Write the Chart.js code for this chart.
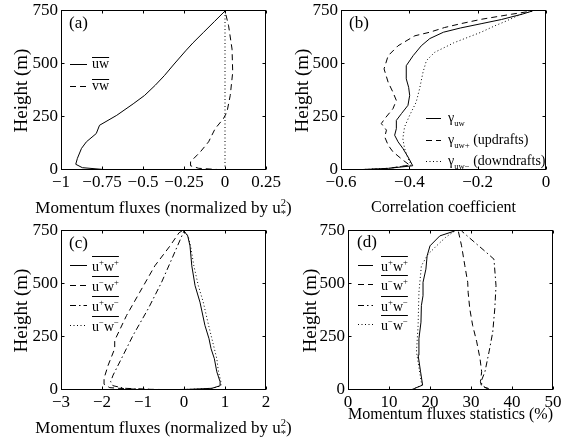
<!DOCTYPE html>
<html>
<head>
<meta charset="utf-8">
<script src="https://cdn.jsdelivr.net/npm/chart.js@4.4.1/dist/chart.umd.min.js"></script>
<style>
  body { margin: 0; background: #fff; }
  #wrap { position: relative; width: 562px; height: 439px; overflow: hidden; background: #fff; }
  canvas { position: absolute; }
</style>
</head>
<body>
<div id="wrap">
  <canvas id="chartA" width="305" height="220" style="left:0;top:0"></canvas>
  <canvas id="chartB" width="281" height="220" style="left:281px;top:0"></canvas>
  <canvas id="chartC" width="305" height="219" style="left:0;top:220px"></canvas>
  <canvas id="chartD" width="281" height="219" style="left:281px;top:220px"></canvas>
</div>
<script>
const SERIF = '"Liberation Serif", "Times New Roman", serif';
Chart.defaults.font.family = SERIF;
Chart.defaults.color = '#000';

// (a) mean momentum fluxes
const uwHeight = [0, 3, 11, 27, 55, 102, 133, 172, 211, 258, 312, 352, 400, 445, 500, 562, 600, 650, 700, 750];
const uwFlux = [-0.70, -0.75, -0.87, -0.91, -0.90, -0.875, -0.845, -0.785, -0.765, -0.66, -0.56, -0.49, -0.425, -0.37, -0.31, -0.24, -0.195, -0.13, -0.065, 0];
const vwHeight = [0, 2, 8, 20, 39, 86, 133, 195, 242, 273, 352, 461, 570, 680, 750];
const vwFlux = [-0.02, -0.04, -0.16, -0.21, -0.21, -0.15, -0.10, -0.06, -0.01, 0.012, 0.032, 0.047, 0.043, 0.022, 0];
const zeroHeight = [0, 750];
const zeroFlux = [0, 0];

// (b) correlation coefficients
const gUwHeight = [2, 8, 20, 62, 102, 133, 164, 195, 234, 266, 305, 352, 390, 430, 492, 539, 586, 620, 650, 670, 690, 710, 735, 750];
const gUw = [-0.54, -0.46, -0.39, -0.404, -0.419, -0.433, -0.443, -0.438, -0.438, -0.423, -0.404, -0.399, -0.402, -0.409, -0.409, -0.389, -0.365, -0.34, -0.30, -0.25, -0.19, -0.13, -0.07, -0.04];
const gUpHeight = [2, 5, 23, 47, 86, 117, 156, 188, 219, 242, 289, 328, 367, 414, 477, 539, 586, 633, 650, 672, 690, 711, 735, 750];
const gUp = [-0.54, -0.472, -0.399, -0.419, -0.448, -0.462, -0.472, -0.467, -0.482, -0.472, -0.448, -0.438, -0.448, -0.462, -0.474, -0.462, -0.433, -0.384, -0.34, -0.297, -0.25, -0.189, -0.10, -0.04];
const gDnHeight = [2, 8, 23, 55, 102, 148, 203, 258, 320, 383, 461, 516, 555, 586, 600, 625, 650, 680, 700, 730, 750];
const gDn = [-0.54, -0.46, -0.394, -0.404, -0.414, -0.419, -0.414, -0.399, -0.38, -0.37, -0.36, -0.35, -0.326, -0.287, -0.27, -0.23, -0.19, -0.15, -0.12, -0.08, -0.04];

// (c) quadrant fluxes
const ppHeight = [0, 3, 8, 20, 39, 86, 148, 195, 242, 305, 414, 492, 586, 680, 727, 750];
const ppFlux = [-0.87, 0.1, 0.68, 0.88, 0.88, 0.80, 0.74, 0.66, 0.61, 0.51, 0.39, 0.27, 0.19, 0.146, 0.09, 0];
const mpHeight = [0, 2, 5, 11, 27, 55, 117, 195, 234, 352, 461, 586, 680, 742, 750];
const mpFlux = [0, -0.47, -1.36, -1.81, -1.95, -1.95, -1.85, -1.69, -1.69, -1.40, -1.08, -0.71, -0.34, -0.12, -0.05];
const pmHeight = [0, 2, 8, 20, 39, 70, 148, 258, 383, 508, 617, 750];
const pmFlux = [-0.3, -0.71, -1.445, -1.73, -1.79, -1.73, -1.526, -1.242, -0.874, -0.547, -0.30, 0];
const mmHeight = [0, 3, 8, 20, 39, 86, 148, 242, 305, 414, 492, 586, 680, 727, 750];
const mmFlux = [-0.87, 0.1, 0.7, 0.9, 0.9, 0.84, 0.8, 0.68, 0.6, 0.47, 0.35, 0.24, 0.16, 0.1, 0];

// (d) quadrant statistics (%)
const ppPctHeight = [1, 8, 23, 86, 164, 242, 320, 398, 445, 508, 570, 633, 680, 727, 750];
const ppPct = [15.5, 16.3, 18.2, 17.7, 17.1, 17.3, 17.8, 17.9, 18.3, 18.3, 19.0, 19.3, 20.0, 22.4, 26];
const mpPctHeight = [1, 8, 16, 39, 86, 148, 227, 305, 383, 461, 508, 586, 680, 750];
const mpPct = [34.5, 34.2, 32.6, 32.3, 32.6, 32.2, 31.4, 30.4, 29.7, 29.3, 29.2, 28.5, 27.7, 26.9];
const pmPctHeight = [1, 8, 23, 47, 86, 180, 273, 383, 492, 617, 648, 703, 750];
const pmPct = [34.3, 33.8, 32.6, 32.6, 33.4, 34.4, 35.3, 35.8, 36.1, 35.6, 33.8, 30.5, 27.7];
const mmPctHeight = [1, 8, 23, 70, 180, 305, 461, 586, 640, 680, 720, 750];
const mmPct = [15.5, 16.3, 18.0, 17.6, 16.7, 17.1, 17.3, 17.9, 19.5, 21.6, 23.8, 26];

const heightTicks = [0, 250, 500, 750];
const ticksA = [-1, -0.75, -0.5, -0.25, 0, 0.25];
const ticksB = [-0.6, -0.4, -0.2, 0];
const ticksC = [-3, -2, -1, 0, 1, 2];
const ticksD = [0, 10, 20, 30, 40, 50];

const SOLID = [], DASH = [6, 4], DOT = [1, 2.5], DASHDOT = [6, 3, 1.5, 3];

const fmt = v => String(v).replace('-', '\u2212');

function pts(xs, ys) {
  return xs.map((v, i) => ({ x: v, y: ys[i] }));
}

function line(label, xs, ys, dash) {
  return {
    label: label,
    data: pts(xs, ys),
    showLine: true,
    borderColor: '#000',
    borderWidth: 1,
    borderDash: dash,
    pointRadius: 0,
    fill: false
  };
}

// parts: '^x' superscript, '_x' subscript, '&' prefix = same x as previous part
function richText(ctx, parts, x, y, size) {
  let cx = x, prevX = x, maxX = x;
  parts.forEach(p => {
    let s = size, dy = 0, t = p;
    let stack = false;
    if (t[0] === '&') { stack = true; t = t.slice(1); }
    if (t[0] === '^') { s = size * 0.62; dy = -size * 0.4; t = t.slice(1); }
    else if (t[0] === '_') { s = size * 0.62; dy = size * 0.25; t = t.slice(1); }
    ctx.font = s + 'px ' + SERIF;
    const px = stack ? prevX : cx;
    ctx.fillText(t, px, y + dy);
    const end = px + ctx.measureText(t).width;
    if (!stack) prevX = cx;
    maxX = Math.max(maxX, end);
    cx = maxX;
  });
  return cx - x;
}

function textWidth(ctx, parts, size) {
  ctx.save();
  ctx.globalAlpha = 0;
  const w = richText(ctx, parts, 0, 0, size);
  ctx.restore();
  return w;
}

const decor = {
  id: 'decor',
  afterDraw(chart, args, o) {
    const ctx = chart.ctx, a = chart.chartArea;
    const xs = chart.scales.x, ys = chart.scales.y;
    ctx.save();
    ctx.strokeStyle = '#000';
    ctx.fillStyle = '#000';
    ctx.lineWidth = 1;
    ctx.setLineDash([]);
    const L = Math.round(a.left) + 0.5, R = Math.round(a.right) - 0.5;
    const T = Math.round(a.top) - 0.5, B = Math.round(a.bottom) - 0.5;
    ctx.strokeRect(L, T, R - L, B - T);
    ctx.beginPath();
    xs.ticks.forEach(t => {
      const px = Math.round(xs.getPixelForValue(t.value)) + 0.5;
      ctx.moveTo(px, B); ctx.lineTo(px, B - 3);
      ctx.moveTo(px, T); ctx.lineTo(px, T + 3);
    });
    ys.ticks.forEach(t => {
      const py = Math.round(ys.getPixelForValue(t.value)) - 0.5;
      ctx.moveTo(L, py); ctx.lineTo(L + 3, py);
      ctx.moveTo(R, py); ctx.lineTo(R - 3, py);
    });
    ctx.stroke();

    ctx.textBaseline = 'alphabetic';
    ctx.textAlign = 'left';
    if (o.tag) {
      ctx.font = '17px ' + SERIF;
      ctx.fillText(o.tag.text, o.tag.x, o.tag.y);
    }
    if (o.xTitle) {
      const w = textWidth(ctx, o.xTitle.parts, 17);
      richText(ctx, o.xTitle.parts, (a.left + a.right) / 2 - w / 2, o.xTitle.y, 17);
    }
    if (o.legend) {
      const lg = o.legend;
      lg.items.forEach((it, i) => {
        const y = lg.ys[i] + 0.5;
        ctx.setLineDash(it.dash);
        ctx.beginPath();
        ctx.moveTo(lg.x0, y);
        ctx.lineTo(lg.x1, y);
        ctx.stroke();
        ctx.setLineDash([]);
        const w = richText(ctx, it.parts, lg.tx, lg.ys[i] + lg.base, 14);
        if (it.over) {
          const oy = Math.round(lg.ys[i] + lg.base - lg.over) + 0.5;
          ctx.beginPath();
          ctx.moveTo(lg.tx, oy);
          ctx.lineTo(lg.tx + w, oy);
          ctx.stroke();
        }
      });
    }
    ctx.restore();
  }
};

function options(p) {
  return {
    responsive: false,
    animation: false,
    layout: { padding: { top: 11, right: p.right, left: 0, bottom: 0 } },
    plugins: {
      legend: { display: false },
      tooltip: { enabled: false },
      decor: p.decor
    },
    scales: {
      x: {
        type: 'linear',
        min: p.xTicks[0],
        max: p.xTicks[p.xTicks.length - 1],
        grid: { display: false, drawTicks: false },
        border: { display: false },
        ticks: { autoSkip: false, maxRotation: 0, padding: 2, font: { size: 17 }, callback: v => fmt(v) },
        afterBuildTicks: s => { s.ticks = p.xTicks.map(v => ({ value: v })); },
        afterFit: s => { s.height = p.xh; s.paddingLeft = 0; s.paddingRight = 0; },
        title: p.xTitle
          ? { display: true, text: p.xTitle, font: { size: p.xTitleSize }, padding: { top: 0, bottom: p.xTitlePad } }
          : { display: false }
      },
      y: {
        type: 'linear',
        min: 0,
        max: 750,
        grid: { display: false, drawTicks: false },
        border: { display: false },
        ticks: { autoSkip: false, padding: 3, font: { size: 17 }, callback: v => fmt(v) },
        afterBuildTicks: s => { s.ticks = heightTicks.map(v => ({ value: v })); },
        afterFit: s => { s.width = p.left; s.paddingTop = 0; s.paddingBottom = 0; },
        title: { display: true, text: 'Height (m)', font: { size: 19 }, padding: { top: p.yTitlePad, bottom: 0 } }
      }
    }
  };
}

const fluxTitle = ['Momentum fluxes (normalized by u', '^2', '&_*', ')'];

new Chart(document.getElementById('chartA'), {
  type: 'scatter',
  data: { datasets: [
    line('uw', uwFlux, uwHeight, SOLID),
    line('vw', vwFlux, vwHeight, DASH),
    line('zero', zeroFlux, zeroHeight, DOT)
  ] },
  options: options({
    left: 61, right: 39, xh: 50, yTitlePad: 10.6, xTicks: ticksA,
    decor: {
      tag: { text: '(a)', x: 69, y: 28 },
      xTitle: { parts: fluxTitle, y: 213 },
      legend: { x0: 70, x1: 87, tx: 92, ys: [64, 86], base: 4, over: 11, items: [
        { dash: SOLID, parts: ['uw'], over: true },
        { dash: DASH, parts: ['vw'], over: true }
      ] }
    }
  }),
  plugins: [decor]
});

new Chart(document.getElementById('chartB'), {
  type: 'scatter',
  data: { datasets: [
    line('γuw', gUw, gUwHeight, SOLID),
    line('γuw+', gUp, gUpHeight, DASH),
    line('γuw-', gDn, gDnHeight, DOT)
  ] },
  options: options({
    left: 60, right: 16, xh: 50, yTitlePad: 10.6, xTicks: ticksB,
    xTitle: 'Correlation coefficient', xTitleSize: 16, xTitlePad: 3,
    decor: {
      tag: { text: '(b)', x: 68, y: 28 },
      legend: { x0: 145, x1: 160, tx: 167, ys: [118, 140, 161], base: 4, over: 0, items: [
        { dash: SOLID, parts: ['γ', '_uw'] },
        { dash: DASH, parts: ['γ', '_uw+', ' (updrafts)'] },
        { dash: DOT, parts: ['γ', '_uw\u2212', ' (downdrafts)'] }
      ] }
    }
  }),
  plugins: [decor]
});

const quadLegend = [
  { dash: SOLID, parts: ['u', '^+', 'w', '^+'], over: true },
  { dash: DASH, parts: ['u', '^\u2212', 'w', '^+'], over: true },
  { dash: DASHDOT, parts: ['u', '^+', 'w', '^\u2212'], over: true },
  { dash: DOT, parts: ['u', '^\u2212', 'w', '^\u2212'], over: true }
];

new Chart(document.getElementById('chartC'), {
  type: 'scatter',
  data: { datasets: [
    line('u+w+', ppFlux, ppHeight, SOLID),
    line('u-w+', mpFlux, mpHeight, DASH),
    line('u+w-', pmFlux, pmHeight, DASHDOT),
    line('u-w-', mmFlux, mmHeight, DOT)
  ] },
  options: options({
    left: 61, right: 39, xh: 49, yTitlePad: 10.6, xTicks: ticksC,
    decor: {
      tag: { text: '(c)', x: 69, y: 28 },
      xTitle: { parts: fluxTitle, y: 213 },
      legend: { x0: 70, x1: 87, tx: 92, ys: [45, 65, 85, 105], base: 6, over: 15, items: quadLegend }
    }
  }),
  plugins: [decor]
});

new Chart(document.getElementById('chartD'), {
  type: 'scatter',
  data: { datasets: [
    line('u+w+', ppPct, ppPctHeight, SOLID),
    line('u-w+', mpPct, mpPctHeight, DASH),
    line('u+w-', pmPct, pmPctHeight, DASHDOT),
    line('u-w-', mmPct, mmPctHeight, DOT)
  ] },
  options: options({
    left: 67, right: 9, xh: 49, yTitlePad: 19.1, xTicks: ticksD,
    xTitle: 'Momentum fluxes statistics (%)', xTitleSize: 17, xTitlePad: 14,
    decor: {
      tag: { text: '(d)', x: 76, y: 27 },
      legend: { x0: 77, x1: 92, tx: 100, ys: [45, 64, 85, 104], base: 6, over: 15, items: quadLegend }
    }
  }),
  plugins: [decor]
});
</script>
</body>
</html>
